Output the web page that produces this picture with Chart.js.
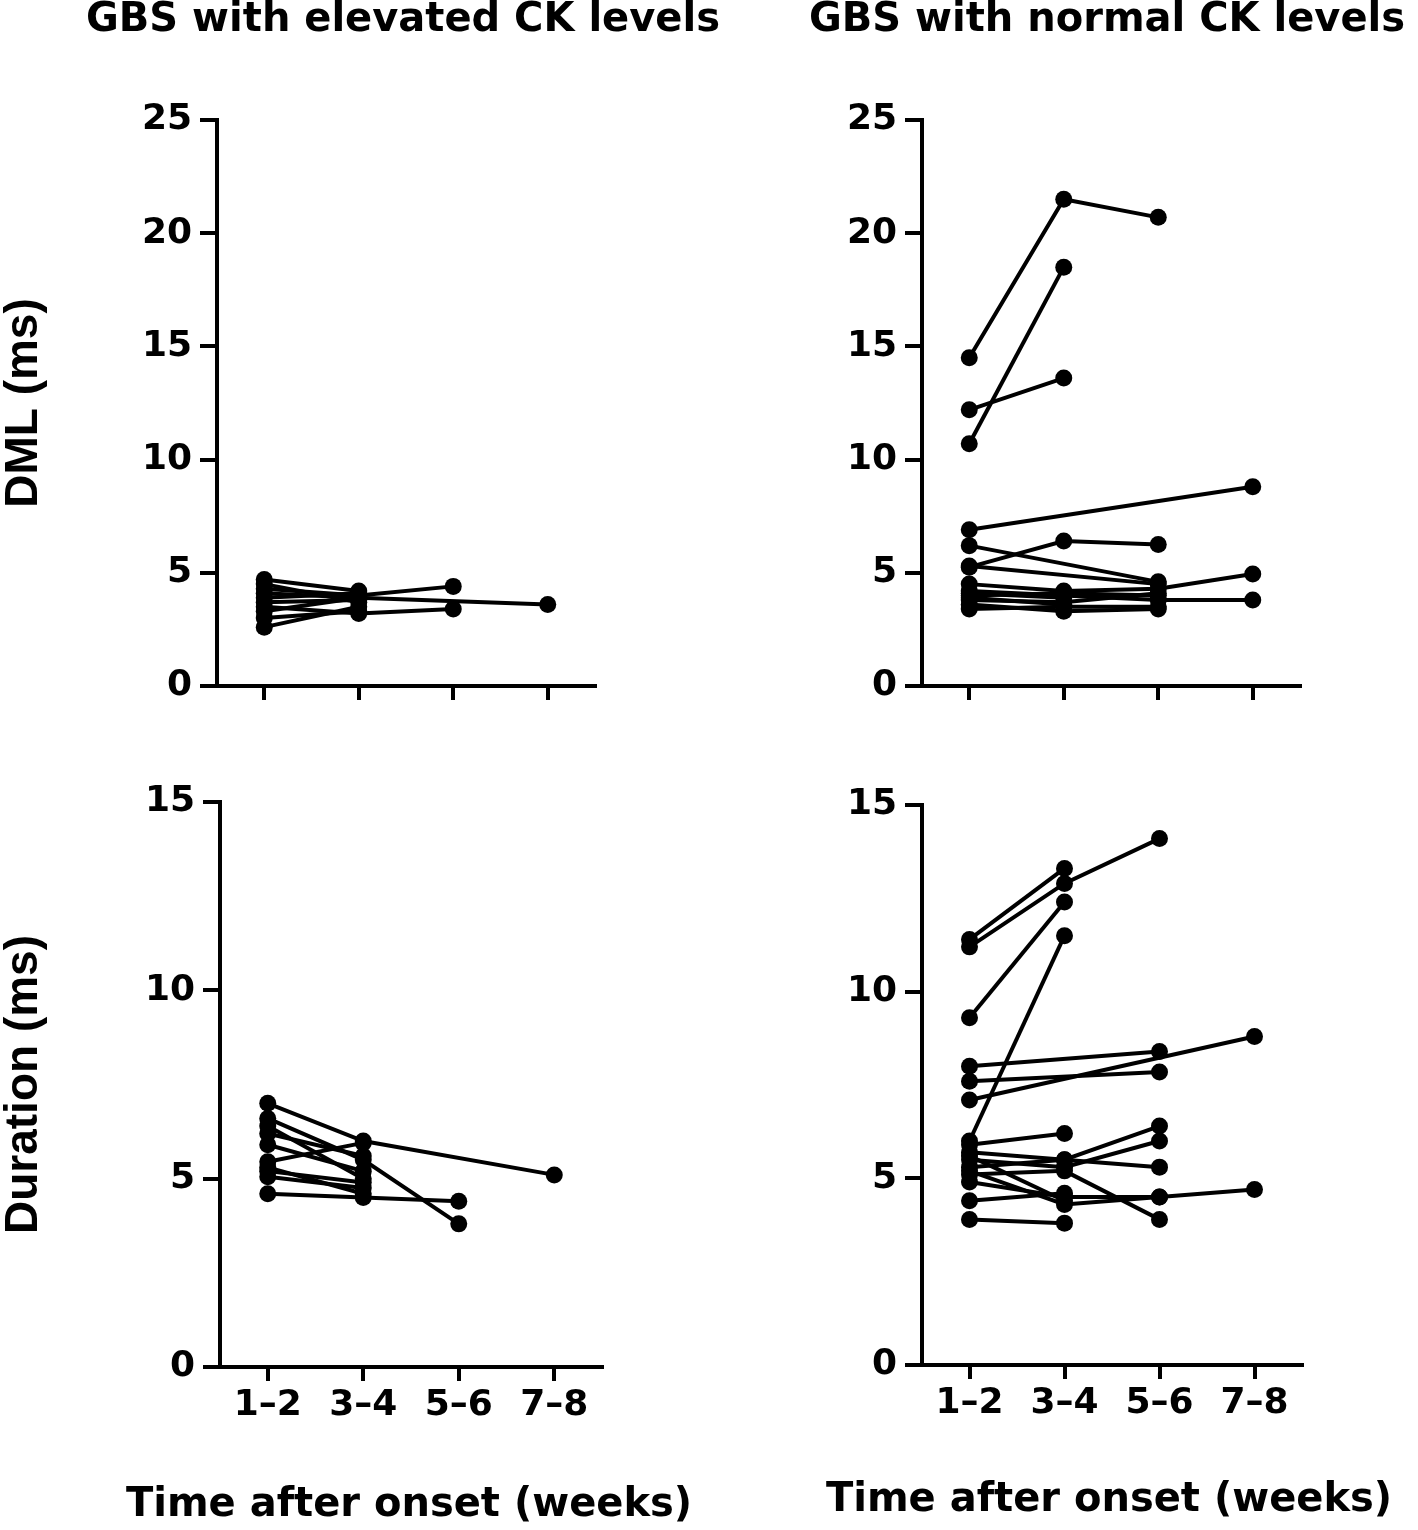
<!DOCTYPE html>
<html>
<head>
<meta charset="utf-8">
<script src="https://cdn.jsdelivr.net/npm/chart.js@4.4.1/dist/chart.umd.min.js"></script>
<style>
  html, body { margin: 0; padding: 0; background: #fff; }
  body { width: 1418px; height: 1530px; position: relative; overflow: hidden; }
  canvas { position: absolute; background: transparent; }
</style>
</head>
<body>
<canvas id="c1" width="760" height="765" style="left:0;top:0"></canvas>
<canvas id="c2" width="709" height="765" style="left:709px;top:0"></canvas>
<canvas id="c3" width="709" height="765" style="left:0;top:765px"></canvas>
<canvas id="c4" width="709" height="765" style="left:709px;top:765px"></canvas>
<script>
// ---- categories / tick labels ----
const weeks = ['1\u20132', '3\u20134', '5\u20136', '7\u20138'];
const dmlTicks = [0, 5, 10, 15, 20, 25];
const durTicks = [0, 5, 10, 15];

// ---- panel titles ----
const titleElevated = 'GBS with elevated CK levels';
const titleNormal = 'GBS with normal CK levels';
const yTitleDML = 'DML (ms)';
const yTitleDur = 'Duration (ms)';
const xTitle = 'Time after onset (weeks)';

// ---- DML, elevated CK (one array per patient: 1-2, 3-4, 5-6, 7-8 weeks) ----
const dmlElevated1 = [4.7, 4.2];
const dmlElevated2 = [4.3, 4.0, 4.4];
const dmlElevated3 = [4.1, 3.9, null, 3.6];
const dmlElevated4 = [3.9, 4.1];
const dmlElevated5 = [3.7, 3.8];
const dmlElevated6 = [3.5, 3.2, 3.4];
const dmlElevated7 = [3.3, 3.9];
const dmlElevated8 = [3.0, 3.3];
const dmlElevated9 = [2.6, 3.5];
const dmlElevated10 = [4.5, 3.7];

// ---- DML, normal CK ----
const dmlNormal1 = [14.5, 21.5, 20.7];
const dmlNormal2 = [10.7, 18.5];
const dmlNormal3 = [12.2, 13.6];
const dmlNormal4 = [6.9, null, null, 8.8];
const dmlNormal5 = [5.25, 6.4, 6.25];
const dmlNormal6 = [6.2, null, 4.6];
const dmlNormal7 = [5.3, null, 4.5];
const dmlNormal8 = [4.5, 4.2, 4.3, 4.95];
const dmlNormal9 = [4.2, 4.0, 3.8, 3.8];
const dmlNormal10 = [4.0, 4.1, 4.0];
const dmlNormal11 = [3.8, 3.7, 4.1];
const dmlNormal12 = [3.6, 3.3, 3.4];
const dmlNormal13 = [3.4, 3.5, 3.5];
const dmlNormal14 = [3.9, 3.6];
const dmlNormal15 = [4.1, 3.9];

// ---- Duration, elevated CK ----
const durElevated1 = [7.0, 6.0, null, 5.1];
const durElevated2 = [6.6, 5.5, 3.8];
const durElevated3 = [6.2, 5.6];
const durElevated4 = [5.9, 5.2];
const durElevated5 = [5.45, 5.95];
const durElevated6 = [5.2, 4.9];
const durElevated7 = [5.05, 4.75];
const durElevated8 = [4.6, 4.5, 4.4];
const durElevated9 = [5.3, 4.6];
const durElevated10 = [6.4, 5.0];

// ---- Duration, normal CK ----
const durNormal1 = [11.4, 13.3];
const durNormal2 = [11.2, 12.9, 14.1];
const durNormal3 = [9.3, 12.4];
const durNormal4 = [6.0, 11.5];
const durNormal5 = [8.0, null, 8.4];
const durNormal6 = [7.6, null, 7.85];
const durNormal7 = [7.1, null, null, 8.8];
const durNormal8 = [5.9, 6.2];
const durNormal9 = [5.7, 5.5, 6.4];
const durNormal10 = [5.5, 5.3, 6.0];
const durNormal11 = [5.3, 5.5, 5.3];
const durNormal12 = [5.1, 5.2, 3.9];
const durNormal13 = [4.9, 4.5, 4.5, 4.7];
const durNormal14 = [4.4, 4.6];
const durNormal15 = [3.9, 3.8];
const durNormal16 = [5.6, 4.4];
const durNormal17 = [5.2, 4.3, 4.5];

const dmlElevated = [dmlElevated1, dmlElevated2, dmlElevated3, dmlElevated4, dmlElevated5,
  dmlElevated6, dmlElevated7, dmlElevated8, dmlElevated9, dmlElevated10];
const dmlNormal = [dmlNormal1, dmlNormal2, dmlNormal3, dmlNormal4, dmlNormal5, dmlNormal6,
  dmlNormal7, dmlNormal8, dmlNormal9, dmlNormal10, dmlNormal11, dmlNormal12, dmlNormal13,
  dmlNormal14, dmlNormal15];
const durElevated = [durElevated1, durElevated2, durElevated3, durElevated4, durElevated5,
  durElevated6, durElevated7, durElevated8, durElevated9, durElevated10];
const durNormal = [durNormal1, durNormal2, durNormal3, durNormal4, durNormal5, durNormal6,
  durNormal7, durNormal8, durNormal9, durNormal10, durNormal11, durNormal12, durNormal13,
  durNormal14, durNormal15, durNormal16, durNormal17];

// ---- styling ----
const BLACK = '#000';
const tickFont = { family: 'DejaVu Sans', weight: 'bold', size: 36 };
const yTitleFont = { family: 'Liberation Sans', weight: 'bold', size: 46, lineHeight: 1.05 };
const headFont = 'bold 40px "DejaVu Sans"';

// Panel heading / x-axis title, drawn centred on the plot area without width squeezing
const panelText = {
  id: 'panelText',
  afterDraw(chart, args, o) {
    const { ctx, chartArea } = chart;
    const cx = (chartArea.left + chartArea.right) / 2 + (o.dx || 0);
    ctx.save();
    ctx.fillStyle = BLACK;
    ctx.textAlign = 'center';
    ctx.textBaseline = 'middle';
    ctx.font = headFont;
    if (o.top) ctx.fillText(o.top, cx, o.topY);
    if (o.bottom) ctx.fillText(o.bottom, cx, o.bottomY);
    ctx.restore();
  }
};

function makePanel(id, series, cfg) {
  const datasets = series.map((s, i) => ({
    label: 'Patient ' + (i + 1),
    data: s,
    borderColor: BLACK,
    backgroundColor: BLACK,
    borderWidth: 4,
    pointRadius: 8.5,
    pointHoverRadius: 8.5,
    pointBorderWidth: 0,
    spanGaps: true,
    tension: 0,
    clip: false
  }));
  return new Chart(document.getElementById(id), {
    type: 'line',
    data: { labels: weeks, datasets },
    plugins: [panelText],
    options: {
      responsive: false,
      animation: false,
      events: [],
      layout: { padding: cfg.padding },
      plugins: {
        legend: { display: false },
        tooltip: { enabled: false },
        panelText: { top: cfg.title, topY: cfg.titleY, bottom: cfg.xTitle, bottomY: cfg.xTitleY, dx: cfg.dx }
      },
      scales: {
        x: {
          type: 'category',
          offset: true,
          grid: { display: true, drawOnChartArea: false, drawTicks: true, tickLength: 14,
                  lineWidth: 4, color: BLACK, offset: false },
          border: { display: true, width: 4, color: BLACK },
          ticks: {
            color: BLACK, font: tickFont, padding: 3, maxRotation: 0, autoSkip: false,
            callback: function (v, i) { return cfg.xLabels ? weeks[i] : ''; }
          },
          afterFit: s => { s.height = cfg.xHeight; }
        },
        y: {
          min: 0,
          max: cfg.yTicks[cfg.yTicks.length - 1],
          afterBuildTicks: s => { s.ticks = cfg.yTicks.map(v => ({ value: v })); },
          grid: { display: true, drawOnChartArea: false, drawTicks: true, tickLength: 17,
                  lineWidth: 4, color: BLACK },
          border: { display: true, width: 4, color: BLACK },
          ticks: { color: BLACK, font: tickFont, padding: 8 },
          title: {
            display: !!cfg.yTitle, text: cfg.yTitle || '', color: BLACK, font: yTitleFont,
            padding: { top: 0, bottom: 0 }
          },
          afterFit: s => { s.width = cfg.yWidth; }
        }
      }
    }
  });
}

makePanel('c1', dmlElevated, {
  title: titleElevated, titleY: 21, dx: -3, yTitle: yTitleDML, yTicks: dmlTicks,
  yWidth: 217, xHeight: 40, xLabels: false,
  padding: { left: 0, right: 165, top: 120, bottom: 39 }
});
makePanel('c2', dmlNormal, {
  title: titleNormal, titleY: 21, dx: -4, yTicks: dmlTicks,
  yWidth: 213, xHeight: 40, xLabels: false,
  padding: { left: 0, right: 118, top: 120, bottom: 39 }
});
makePanel('c3', durElevated, {
  yTitle: yTitleDur, yTicks: durTicks, xTitle: xTitle, xTitleY: 741, dx: -2,
  yWidth: 220, xHeight: 159, xLabels: true,
  padding: { left: 0, right: 107, top: 37, bottom: 4 }
});
makePanel('c4', durNormal, {
  yTicks: durTicks, xTitle: xTitle, xTitleY: 736, dx: -3,
  yWidth: 213, xHeight: 156, xLabels: true,
  padding: { left: 0, right: 116, top: 40, bottom: 9 }
});
</script>
</body>
</html>
